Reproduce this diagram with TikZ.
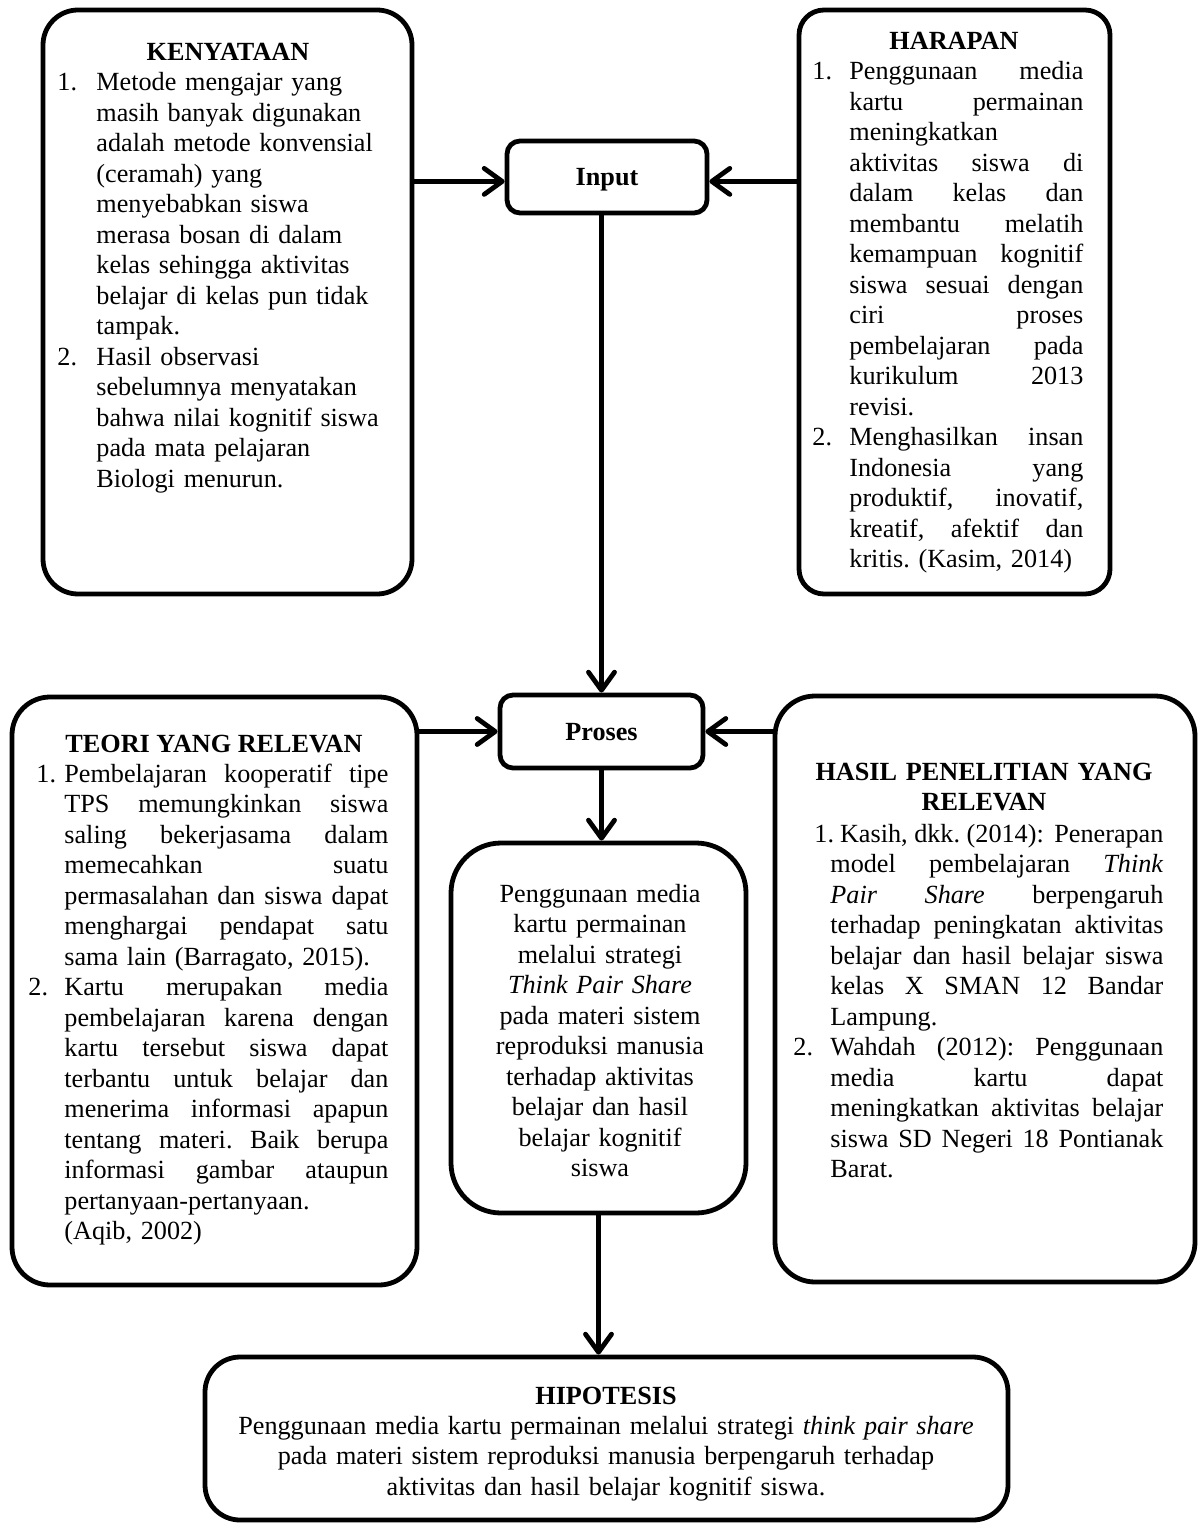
\documentclass[tikz,border=0pt]{standalone}
\usepackage{fontspec}
\setmainfont{Liberation Serif}
\usetikzlibrary{arrows.meta}
\newcommand{\fsz}{\fontsize{13.1pt}{15.25pt}\selectfont}
\newcommand{\JL}[1]{{\spaceskip=0.25em plus 20em\relax\makebox[\hsize][s]{#1}}\par}
\newcommand{\Ln}[1]{#1\par}
\newcommand{\Num}[2]{\makebox[0pt][r]{\makebox[#1][l]{#2}}}
\setlength{\parindent}{0pt}
\tikzset{
  boxed/.style={draw, line width=2.4pt, inner sep=0pt},
  arr/.style={line width=2.4pt, -{Straight Barb[length=9pt,width=13pt,round]}},
  body/.style={inner sep=0pt, anchor=base west, font=\fsz},
  head/.style={inner sep=0pt, anchor=base, font=\fsz\bfseries, align=center},
  ctext/.style={inner sep=0pt, anchor=base, font=\fsz, align=center},
}
\begin{document}
\frenchspacing
\begin{tikzpicture}[x=0.5pt,y=-0.5pt]
\useasboundingbox (0,0) rectangle (1199,1524);

% boxes
\node[boxed, rounded corners=17.5pt, minimum width=184.5pt, minimum height=292pt] (ken) at (227.5,302) {};
\node[boxed, rounded corners=12.5pt, minimum width=155.5pt, minimum height=292pt] (har) at (954.5,302) {};
\node[boxed, rounded corners=6.5pt, minimum width=100pt, minimum height=36pt, font=\fsz\bfseries, text depth=0pt] (inp) at (607,177) {Input};
\node[boxed, rounded corners=6.5pt, minimum width=101.5pt, minimum height=36.5pt, font=\fsz\bfseries, text depth=0pt] (pro) at (601.5,731.5) {Proses};
\node[boxed, rounded corners=19pt, minimum width=202.5pt, minimum height=294pt] (teo) at (214.5,991) {};
\node[boxed, rounded corners=20pt, minimum width=210pt, minimum height=293pt] (has) at (985,989) {};
\node[boxed, rounded corners=25pt, minimum width=147.5pt, minimum height=185pt] (cen) at (598.5,1028) {};
\node[boxed, rounded corners=17.5pt, minimum width=401.5pt, minimum height=81.5pt] (hip) at (606.5,1438.5) {};

% KENYATAAN
\node[head] (kent) at (228,61) {KENYATAAN};
\node[body, text width=150pt] (kenb) at (96,91) {%
\Ln{\Num{19.5pt}{1.}Metode mengajar yang}
\Ln{masih banyak digunakan}
\Ln{adalah metode konvensial}
\Ln{(ceramah) yang}
\Ln{menyebabkan siswa}
\Ln{merasa bosan di dalam}
\Ln{kelas sehingga aktivitas}
\Ln{belajar di kelas pun tidak}
\Ln{tampak.}
\Ln{\Num{19.5pt}{2.}Hasil observasi}
\Ln{sebelumnya menyatakan}
\Ln{bahwa nilai kognitif siswa}
\Ln{pada mata pelajaran}
\Ln{Biologi menurun.}};

% HARAPAN
\node[head] (hart) at (954,50) {HARAPAN};
\node[body, text width=117pt] (harb) at (849,80) {%
\JL{\Num{18.5pt}{1.}Penggunaan media}
\JL{kartu permainan}
\Ln{meningkatkan}
\JL{aktivitas siswa di}
\JL{dalam kelas dan}
\JL{membantu melatih}
\JL{kemampuan kognitif}
\JL{siswa sesuai dengan}
\JL{ciri proses}
\JL{pembelajaran pada}
\JL{kurikulum 2013}
\Ln{revisi.}
\JL{\Num{18.5pt}{2.}Menghasilkan insan}
\JL{Indonesia yang}
\JL{produktif, inovatif,}
\JL{kreatif, afektif dan}
\Ln{kritis. (Kasim, 2014)}};

% TEORI
\node[head] (teot) at (214,752) {TEORI YANG RELEVAN};
\node[body, text width=162pt] (teob) at (64,782) {%
\JL{\Num{14pt}{1.}Pembelajaran kooperatif tipe}
\JL{TPS memungkinkan siswa}
\JL{saling bekerjasama dalam}
\JL{memecahkan suatu}
\JL{permasalahan dan siswa dapat}
\JL{menghargai pendapat satu}
\Ln{sama lain (Barragato, 2015).}
\JL{\Num{18pt}{2.}Kartu merupakan media}
\JL{pembelajaran karena dengan}
\JL{kartu tersebut siswa dapat}
\JL{terbantu untuk belajar dan}
\JL{menerima informasi apapun}
\JL{tentang materi. Baik berupa}
\JL{informasi gambar ataupun}
\Ln{pertanyaan-pertanyaan.}
\Ln{(Aqib, 2002)}};

% HASIL PENELITIAN
\node[head, text width=200pt] (hast) at (984,780) {HASIL PENELITIAN YANG\\RELEVAN};
\node[body, text width=166.5pt] (hasb) at (830,842) {%
\hspace*{-8pt}{\spaceskip=0.25em plus 20em\relax\makebox[\dimexpr\hsize+6pt\relax][s]{1.\hspace{3pt}Kasih, dkk. (2014):\hspace{2pt} Penerapan}}\par
\JL{model pembelajaran \textit{Think}}
\JL{\textit{Pair} \textit{Share} berpengaruh}
\JL{terhadap peningkatan aktivitas}
\JL{belajar dan hasil belajar siswa}
\JL{kelas X SMAN 12 Bandar}
\Ln{Lampung.}
\JL{\Num{18.5pt}{2.}Wahdah (2012): Penggunaan}
\JL{media kartu dapat}
\JL{meningkatkan aktivitas belajar}
\JL{siswa SD Negeri 18 Pontianak}
\Ln{Barat.}};

% centre box
\node[ctext, text width=140pt] (cent) at (600,902) {Penggunaan media\\kartu permainan\\melalui strategi\\\textit{Think Pair Share}\\pada materi sistem\\reproduksi manusia\\terhadap aktivitas\\belajar dan hasil\\belajar kognitif\\siswa};

% HIPOTESIS
\node[head] (hipt) at (606,1404) {HIPOTESIS};
\node[ctext, text width=395pt] (hipb) at (606,1434) {Penggunaan media kartu permainan melalui strategi \textit{think pair share}\\pada materi sistem reproduksi manusia berpengaruh terhadap\\aktivitas dan hasil belajar kognitif siswa.};

% connectors
\coordinate (inpL) at ([yshift=-2.2pt]inp.west);
\coordinate (inpR) at ([yshift=-2.2pt]inp.east);
\draw[arr] (inpL -| ken.east) -- (inpL);
\draw[arr] (inpR -| har.west) -- (inpR);
\draw[arr] (inp.south -| pro.north) -- (pro.north);
\draw[arr] (pro.west -| teo.east) -- (pro.west);
\draw[arr] (pro.east -| has.west) -- (pro.east);
\draw[arr] (pro.south) -- (pro.south |- cen.north);
\draw[arr] (cen.south) -- (cen.south |- hip.north);
\end{tikzpicture}
\end{document}
